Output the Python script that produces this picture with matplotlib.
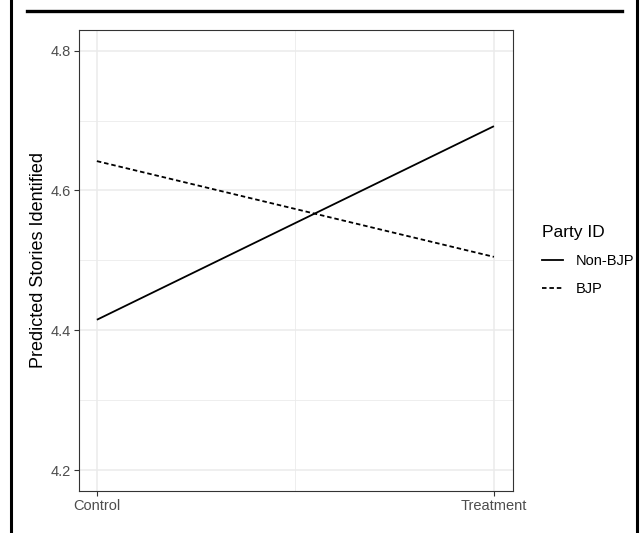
import matplotlib
matplotlib.use("Agg")
import matplotlib.pyplot as plt
from matplotlib.lines import Line2D

plt.rcParams['font.family'] = ['Liberation Sans', 'DejaVu Sans']

conditions = ["Control", "Treatment"]
x_pos = [0, 1]
groups = ["Non-BJP", "BJP"]
non_bjp = [4.415, 4.692]
bjp = [4.642, 4.505]
y_ticks = [4.2, 4.4, 4.6, 4.8]
y_minor = [4.3, 4.5, 4.7]

W, H = 643, 533
fig = plt.figure(figsize=(W/100, H/100), dpi=100)

# panel: x 79..513, y 30..491 (pixels from top)
l, r, t, b = 79, 513, 30, 491
ax = fig.add_axes([l/W, 1 - b/H, (r-l)/W, (b-t)/H])
ax.set_xlim(-0.045, 1.048)
ax.set_ylim(4.170, 4.8296)

for yy in y_minor:
    ax.axhline(yy, color='#EBEBEB', lw=0.6, zorder=0)
ax.axvline(0.5, color='#EBEBEB', lw=0.6, zorder=0)
for yy in y_ticks:
    ax.axhline(yy, color='#EBEBEB', lw=1.1, zorder=0)
for xx in x_pos:
    ax.axvline(xx, color='#EBEBEB', lw=1.1, zorder=0)

ax.plot(x_pos, non_bjp, color='black', lw=1.3, solid_capstyle='butt', zorder=3)
ax.plot(x_pos, bjp, color='black', lw=1.3, linestyle=(0, (2.5, 1.6)), zorder=3)

ax.set_xticks(x_pos)
ax.set_xticklabels(conditions)
ax.set_yticks(y_ticks)
ax.set_yticklabels([f"{v:.1f}" for v in y_ticks])
ax.tick_params(axis='both', colors='#333333', labelcolor='#4D4D4D', labelsize=10.5,
               length=3.5, width=0.8, pad=2)
for s in ax.spines.values():
    s.set_color('#333333')
    s.set_linewidth(0.8)
ax.set_ylabel("Predicted Stories Identified", fontsize=13, color='black', labelpad=3)

handles = [Line2D([0], [0], color='black', lw=1.3),
           Line2D([0], [0], color='black', lw=1.3, linestyle=(0, (2.5, 1.6)))]
leg = fig.legend(handles, groups, title="Party ID", loc='upper left',
                 bbox_to_anchor=(542/W, 1 - 225/H), frameon=False, borderpad=0,
                 borderaxespad=0,
                 fontsize=10.5, title_fontsize=12.5, handlelength=1.45,
                 handletextpad=0.85, labelspacing=0.95)
leg._legend_box.align = "left"
leg._legend_box.sep = 10

# outer frame lines
fig.add_artist(Line2D([11/W, 11/W], [0, 1], color='black', lw=2.2, transform=fig.transFigure))
fig.add_artist(Line2D([637/W, 637/W], [0, 1], color='black', lw=2.2, transform=fig.transFigure))
fig.add_artist(Line2D([27/W, 622/W], [1 - 11/H, 1 - 11/H], color='black', lw=2.4,
                      transform=fig.transFigure))

fig.savefig("out.png", dpi=100)
